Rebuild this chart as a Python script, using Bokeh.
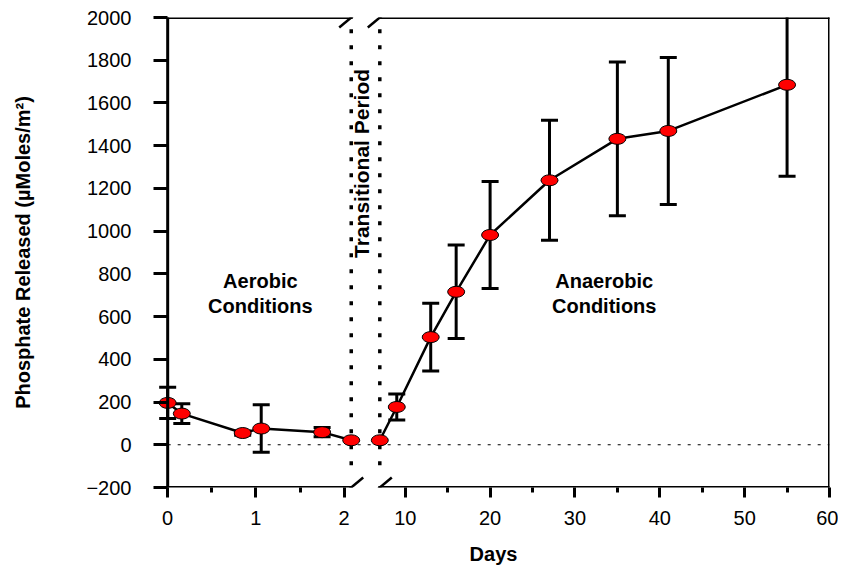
import math
from bokeh.plotting import figure
from bokeh.models import FixedTicker, Arrow, Label, Range1d, ColumnDataSource
from bokeh.embed import file_html
from bokeh.resources import INLINE

# ---------------- data ----------------
aerobic_days = [0.0, 0.16, 0.85, 1.06, 1.75, 2.08]
aerobic_phosphate = [196, 146, 55, 76, 59, 21]
aerobic_sd = [73, 46, 10, 111, 22, 0]

anaerobic_days = [7, 9, 13, 16, 20, 27, 35, 41, 55]
anaerobic_phosphate = [21, 177, 504, 716, 982, 1238, 1432, 1469, 1685]
anaerobic_sd = [0, 61, 159, 219, 250, 281, 360, 344, 428]

left_tick_days = [0, 1, 2]
left_minor_days = [0.5, 1.5]
right_tick_days = [10, 20, 30, 40, 50, 60]
right_minor_days = [15, 25, 35, 45, 55]
y_ticks = [-200, 0, 200, 400, 600, 800, 1000, 1200, 1400, 1600, 1800, 2000]

transition_start = 2.08   # days (end of aerobic segment)
transition_end = 7        # days (start of anaerobic segment)

# ---------------- broken axis mapping ----------------
LEFT_ORIGIN = -18.0   # axis unit of aerobic day 0
LEFT_SCALE = 10.4     # axis units per aerobic day
X_START, X_END = -19.2, 60
Y_START, Y_END = -200, 2000

W, H = 838, 570
BL, BR, BT, BB = 157, 9, 17, 83
FW, FH = W - BL - BR, H - BT - BB
PX_X = FW / (X_END - X_START)
PX_Y = FH / (Y_END - Y_START)


def left_x(d):
    return LEFT_ORIGIN + LEFT_SCALE * d


aer_x = [left_x(d) for d in aerobic_days]
ana_x = [float(d) for d in anaerobic_days]
xb1 = left_x(transition_start)
xb2 = float(transition_end)
x0 = left_x(0)

FONT = "Liberation Sans"

p = figure(width=W, height=H, x_range=Range1d(X_START, X_END), y_range=Range1d(Y_START, Y_END),
           output_backend="svg", toolbar_location=None,
           min_border_left=BL, min_border_right=BR, min_border_top=BT, min_border_bottom=BB)
p.outline_line_color = None
p.grid.visible = False
p.background_fill_color = "white"
p.border_fill_color = "white"

# ---------------- axes ----------------
major_x = [left_x(d) for d in left_tick_days] + [float(d) for d in right_tick_days]
major_lab = [str(d) for d in left_tick_days] + [str(d) for d in right_tick_days]
minor_x = [left_x(d) for d in left_minor_days] + [float(d) for d in right_minor_days]

xa = p.xaxis[0]
xa.ticker = FixedTicker(ticks=major_x, minor_ticks=minor_x)
xa.major_label_overrides = {k: v for k, v in zip(major_x, major_lab)}
xa.axis_line_color = None
xa.major_tick_line_width = 3
xa.major_tick_line_color = "black"
xa.major_tick_out = 10
xa.major_tick_in = 0
xa.minor_tick_line_width = 3
xa.minor_tick_line_color = "black"
xa.minor_tick_out = 5
xa.minor_tick_in = 0
xa.major_label_text_font = FONT
xa.major_label_text_font_size = "20px"
xa.major_label_text_color = "black"
xa.major_label_standoff = 13
xa.axis_label = "Days"
xa.axis_label_text_font = FONT
xa.axis_label_text_font_size = "20px"
xa.axis_label_text_font_style = "bold"
xa.axis_label_text_color = "black"
xa.axis_label_standoff = 15

ya = p.yaxis[0]
ya.ticker = FixedTicker(ticks=y_ticks, minor_ticks=[])
ya.axis_line_color = None
ya.major_tick_line_width = 3
ya.major_tick_line_color = "black"
ya.major_tick_in = 10
ya.major_tick_out = 4
ya.minor_tick_line_color = None
ya.major_label_text_font = FONT
ya.major_label_text_font_size = "20px"
ya.major_label_text_color = "black"
ya.major_label_standoff = 22
ya.axis_label = "Phosphate Released (\u00b5Moles/m\u00b2)"
ya.axis_label_text_font = FONT
ya.axis_label_text_font_size = "20px"
ya.axis_label_text_font_style = "bold"
ya.axis_label_text_color = "black"
ya.axis_label_standoff = 49

# ---------------- reference lines ----------------
p.segment(x0=[x0], y0=[0], x1=[X_END], y1=[0], line_color="black", line_width=1.2, line_dash="3 7")
p.segment(x0=[xb1, xb2], y0=[1945, 1945], x1=[xb1, xb2], y1=[-140, -140],
          line_color="black", line_width=3.5, line_dash="4 12")

# ---------------- error bars ----------------
def add_errors(xs, ys, sds):
    src = ColumnDataSource(dict(
        x=[x for x, s in zip(xs, sds) if s > 0],
        lo=[y - s for y, s in zip(ys, sds) if s > 0],
        hi=[y + s for y, s in zip(ys, sds) if s > 0]))
    p.segment(x0="x", y0="lo", x1="x", y1="hi", source=src, line_color="black", line_width=3)
    p.scatter(x="x", y="lo", source=src, marker="dash", size=17, line_color="black", line_width=3)
    p.scatter(x="x", y="hi", source=src, marker="dash", size=17, line_color="black", line_width=3)


add_errors(aer_x, aerobic_phosphate, aerobic_sd)
add_errors(ana_x, anaerobic_phosphate, anaerobic_sd)

# ---------------- series ----------------
p.line(aer_x, aerobic_phosphate, line_color="black", line_width=2.5)
p.line(ana_x, anaerobic_phosphate, line_color="black", line_width=2.5)
for xs, ys in ((aer_x, aerobic_phosphate), (ana_x, anaerobic_phosphate)):
    p.ellipse(x=xs, y=ys, width=17, height=11, width_units="screen", height_units="screen",
              fill_color="#ff0000", line_color="black", line_width=1)

# ---------------- frame with axis break ----------------
frame_lines = [
    (x0, Y_START, xb1, Y_START), (xb2, Y_START, X_END, Y_START),
    (x0, Y_END, xb1, Y_END), (xb2, Y_END, X_END, Y_END),
    (x0, Y_START, x0, Y_END), (X_END, Y_START, X_END, Y_END),
]
for (xs_, ys_, xe_, ye_) in frame_lines:
    p.add_layout(Arrow(end=None, x_start=xs_, y_start=ys_, x_end=xe_, y_end=ye_,
                       line_color="black", line_width=3, line_cap="square"))

dx, dy = 12 / PX_X, 10 / PX_Y
for xb in (xb1, xb2):
    for yb in (Y_START, Y_END):
        p.add_layout(Arrow(end=None, x_start=xb - dx, y_start=yb - dy, x_end=xb + dx, y_end=yb + dy,
                           line_color="black", line_width=2.5))

# ---------------- annotations ----------------
def add_label(text, x, y, angle=0.0, baseline="alphabetic", size="20px"):
    p.add_layout(Label(x=x, y=y, text=text, angle=angle, text_align="center", text_baseline=baseline,
                       text_font=FONT, text_font_size=size, text_font_style="bold", text_color="black"))


add_label("Aerobic", left_x(1.05), 765)
add_label("Conditions", left_x(1.05), 650)
add_label("Anaerobic", 33.45, 765)
add_label("Conditions", 33.45, 650)
add_label("Transitional Period", xb1 + 10 / PX_X, 1317, angle=math.pi / 2, baseline="middle", size="21px")

open("out.html", "w").write(file_html(p, INLINE))
